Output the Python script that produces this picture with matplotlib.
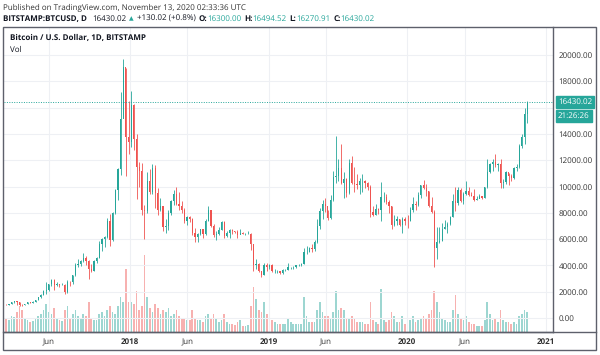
import numpy as np
import matplotlib
matplotlib.use('Agg')
import matplotlib.pyplot as plt
import matplotlib.dates as mdates
from matplotlib.patches import Rectangle
from matplotlib.lines import Line2D

plt.rcParams['font.family'] = ['Open Sans', 'DejaVu Sans']
plt.rcParams['text.hinting'] = 'no_hinting'
plt.rcParams['text.hinting_factor'] = 1

UP = '#26a69a'
DOWN = '#ef5350'
TXT = '#131722'
FRAME = '#5d606b'
FS_HEAD = 6.1
FS_AX = 5.8

# weekly candles (week starting monday), bitstamp BTC/USD
first_week = np.datetime64('2017-02-06')
first_open = 1010

close_2017 = [1000, 1050, 1180, 1270, 1230, 1020, 970, 1080, 1180, 1170, 1240, 1350,
              1560, 1760, 2050, 2100, 2550, 2920, 2520, 2580, 2500, 2510, 1950, 2750,
              2730, 3240, 4050, 4100, 4350, 4600, 4300, 3690, 3600, 4370, 4600, 5640,
              6000, 6140, 7380, 5900, 8000, 9750, 11300, 15100, 19100, 13800, 13400]
high_2017 = [1030, 1060, 1190, 1290, 1330, 1250, 1060, 1100, 1200, 1220, 1260, 1360,
             1600, 1850, 2100, 2760, 2560, 2980, 2950, 2770, 2600, 2640, 2550, 2900,
             2830, 3300, 4180, 4480, 4380, 4980, 4700, 4400, 4100, 4400, 4620, 5850,
             6100, 6200, 7600, 7880, 8050, 9800, 11400, 17170, 19670, 19000, 16500]
low_2017 = [960, 990, 1050, 1150, 1000, 950, 890, 960, 1060, 1140, 1170, 1240,
            1340, 1550, 1720, 1850, 2080, 2450, 2100, 2450, 2380, 2480, 1830, 1900,
            2440, 2620, 3200, 3850, 3920, 4260, 4000, 2970, 3480, 3580, 4160, 4550,
            5100, 5420, 6100, 5500, 5850, 7900, 9000, 10900, 15500, 10800, 12500]
vol_2017 = [14, 12, 16, 15, 20, 26, 22, 14, 12, 10, 11, 13, 16, 18, 22, 28, 20,
            18, 24, 14, 12, 11, 22, 26, 14, 18, 22, 16, 14, 18, 16, 30, 14, 12,
            12, 18, 20, 16, 22, 26, 20, 18, 26, 34, 30, 62, 30]

close_2018 = [16200, 13600, 11500, 11200, 8200, 8100, 10400, 9600, 11400, 9500, 8200,
              8500, 6900, 7000, 8000, 8900, 9400, 8700, 8500, 8200, 7350, 7700, 7500,
              6500, 6150, 6350, 6750, 6350, 7400, 8200, 7000, 6300, 6400, 6700, 7300,
              6200, 6500, 6700, 6600, 6550, 6300, 6500, 6400, 6400, 6400, 5600, 4000,
              4100, 3600, 3250, 4000, 3850, 4000]
high_2018 = [17250, 16300, 14000, 11900, 11800, 8600, 11100, 11300, 11700, 11600, 9900,
             9100, 8500, 7500, 8200, 8950, 9750, 9990, 9600, 8900, 8400, 7780, 7780,
             7600, 6850, 6500, 6800, 6800, 7550, 8500, 8250, 7150, 6620, 6950, 7380,
             7400, 6600, 6800, 6800, 6650, 6700, 6750, 6530, 6470, 6600, 6460, 5600,
             4500, 4200, 3600, 4200, 4200, 4120]
low_2018 = [13000, 12800, 9050, 10000, 7800, 6000, 8000, 9400, 9400, 8400, 7800,
            8100, 6600, 6500, 6700, 7800, 8600, 8600, 8200, 7950, 7250, 7100, 7300,
            6300, 5800, 5800, 6300, 6100, 6300, 7350, 6900, 6150, 5900, 6300, 6700,
            6100, 6150, 6100, 6400, 6450, 6100, 6400, 6350, 6300, 6350, 5200, 3600,
            3700, 3500, 3120, 3250, 3550, 3700]
vol_2018 = [30, 28, 40, 22, 26, 76, 34, 24, 20, 28, 24, 18, 22, 20, 24, 16, 18, 22,
            16, 14, 14, 12, 12, 22, 14, 12, 12, 10, 16, 18, 14, 18, 14, 10, 12, 18,
            10, 8, 8, 7, 10, 12, 6, 6, 7, 26, 44, 32, 22, 20, 30, 18, 14]

close_2019 = [3550, 3550, 3550, 3420, 3650, 3650, 3850, 3850, 3900, 4000, 4000, 4100,
              5050, 5050, 5300, 5250, 5750, 7000, 8100, 8700, 8550, 7600, 8950, 10700,
              10800, 11400, 10300, 10550, 9500, 11800, 10300, 10200, 10100, 10400, 10400,
              10300, 10000, 8050, 7800, 8300, 8200, 9200, 9200, 8800, 8500, 7050, 7400,
              7500, 7100, 7500, 7400, 7350]
high_2019 = [4100, 3700, 3650, 3560, 3700, 3700, 4200, 3900, 3950, 4050, 4100, 4150,
             5350, 5450, 5380, 5650, 5900, 7500, 8350, 8950, 9100, 8250, 9350, 11200,
             13850, 12100, 13200, 11100, 10650, 12100, 12300, 11450, 10950, 10650, 10950,
             10500, 10350, 10100, 8500, 8650, 8400, 10350, 9550, 9400, 9000, 8500, 7850,
             7750, 7550, 7650, 7650, 7800]
low_2019 = [3500, 3450, 3450, 3350, 3350, 3550, 3650, 3700, 3700, 3820, 3920, 3950,
            4080, 4900, 5000, 5050, 5100, 5700, 6800, 7550, 8050, 7450, 7550, 8900,
            10300, 10400, 10200, 9100, 9200, 9450, 10200, 9550, 9800, 9400, 9600,
            9900, 9750, 7700, 7750, 7800, 7900, 7350, 8850, 8700, 8000, 6800, 7000,
            7100, 7000, 6450, 7100, 6880]
vol_2019 = [12, 10, 8, 8, 8, 8, 14, 10, 8, 8, 8, 8, 34, 16, 10, 10, 10, 22, 30, 20,
            16, 16, 14, 20, 40, 22, 24, 22, 14, 14, 16, 14, 10, 10, 10, 8, 8, 30, 12,
            10, 8, 42, 12, 10, 12, 20, 16, 10, 10, 16, 8, 8]

close_2020 = [8180, 8700, 8600, 9350, 10150, 9900, 9650, 8550, 8050, 5350, 5800, 5880,
              6770, 6900, 7150, 7700, 8900, 8750, 9700, 8900, 9450, 9670, 9350, 9300,
              9000, 9080, 9250, 9160, 9950, 11100, 11680, 11900, 11670, 11690, 10270,
              10330, 11080, 10770, 10670, 11380, 11500, 13100, 13800, 15480, 16430.02]
high_2020 = [8450, 9190, 8900, 9600, 10150, 10500, 10200, 9650, 9180, 8200, 6900, 6950,
             7200, 7460, 7300, 7750, 9460, 10000, 9950, 9900, 9600, 10420, 9990, 9600,
             9800, 9300, 9450, 9300, 9950, 12100, 11800, 12100, 12470, 11750, 12080,
             10550, 11150, 11000, 10950, 11480, 11700, 13250, 14000, 15970, 16494.52]
low_2020 = [7350, 8050, 8250, 8500, 9150, 9800, 9300, 8450, 8000, 3850, 4450, 5700,
            5850, 6750, 6500, 7050, 7650, 8150, 8600, 8800, 8650, 9350, 9250, 9250,
            8900, 8950, 9100, 9050, 9150, 9900, 11000, 11200, 11500, 11200, 9900,
            9850, 10200, 10150, 10450, 10550, 11200, 11400, 12900, 13200, 14800]
vol_2020 = [12, 16, 10, 12, 14, 16, 14, 18, 22, 40, 30, 20, 14, 12, 10, 10, 22, 36,
            18, 14, 12, 16, 10, 8, 8, 6, 6, 6, 12, 30, 18, 12, 14, 10, 22, 12, 10, 10,
            8, 10, 8, 16, 18, 22, 20]

price_ticks = [0, 2000, 4000, 6000, 8000, 10000, 12000, 14000, 16000, 18000, 20000]
# 16000 is hidden behind the last-price tag in the original
price_labels = ['0.00', '2000.00', '4000.00', '6000.00', '8000.00', '10000.00',
                '12000.00', '14000.00', '', '18000.00', '20000.00']
date_ticks = ['2017-06-01', '2018-01-01', '2018-06-01', '2019-01-01', '2019-06-01',
              '2020-01-01', '2020-06-01', '2021-01-01']
date_labels = ['Jun', '2018', 'Jun', '2019', 'Jun', '2020', 'Jun', '2021']
last_price = 16430.02

closes = np.array(close_2017 + close_2018 + close_2019 + close_2020, float)
highs = np.array(high_2017 + high_2018 + high_2019 + high_2020, float)
lows = np.array(low_2017 + low_2018 + low_2019 + low_2020, float)
volume = np.array(vol_2017 + vol_2018 + vol_2019 + vol_2020, float)
opens = np.concatenate([[first_open], closes[:-1]])
weeks = first_week + np.arange(len(closes)) * np.timedelta64(7, 'D')
x = mdates.date2num(weeks + np.timedelta64(3, 'D'))
cols = np.where(closes >= opens, UP, DOWN)

W, H = 600, 355
fig = plt.figure(figsize=(6, 3.55), dpi=100)


def fx(px):
    return px / W


def fy(py):
    return 1 - py / H


pos = [fx(4), fy(332), fx(553 - 4), (332 - 27) / H]
ax_vol = fig.add_axes(pos)
ax = fig.add_axes(pos, sharex=ax_vol)
ax.patch.set_visible(False)

ax_vol.bar(x, volume, width=4.5, color=cols, alpha=0.45, linewidth=0)
ax_vol.set_ylim(0, 300)
ax_vol.axis('off')

ax.vlines(x, lows, highs, colors=cols, linewidth=0.6)
ax.bar(x, closes - opens, bottom=opens, width=3.2, color=cols, linewidth=0)
ax.axhline(last_price, color=UP, linestyle=(0, (1, 1.5)), linewidth=0.7)

ax.set_xlim(mdates.date2num(np.datetime64('2017-02-03')),
            mdates.date2num(np.datetime64('2021-01-19')))
ax.set_ylim(-1065, 22130)

ax.yaxis.tick_right()
ax.set_yticks(price_ticks)
ax.set_yticklabels(price_labels)
ax.set_xticks(mdates.date2num(np.array(date_ticks, dtype='datetime64[D]')))
ax.set_xticklabels(date_labels)
for lab in ax.get_xticklabels():
    if lab.get_text() != 'Jun':
        lab.set_fontweight('bold')
ax.tick_params(axis='both', length=0, labelsize=FS_AX, colors='#333333')
ax.tick_params(axis='y', pad=4)
ax.tick_params(axis='x', pad=4.5)
ax.grid(True, color='#eef0f4', linewidth=0.8)
ax.set_axisbelow(True)
for s in ['top', 'left']:
    ax.spines[s].set_visible(False)
for s in ['right', 'bottom']:
    ax.spines[s].set_color(FRAME)
    ax.spines[s].set_linewidth(1)

# outer frame and axis separator
fig.add_artist(Rectangle((fx(3), fy(350)), fx(593), 323 / H, transform=fig.transFigure,
                         fill=False, edgecolor=FRAME, linewidth=1))
fig.add_artist(Line2D([fx(3), fx(596)], [fy(332), fy(332)], transform=fig.transFigure,
                      color=FRAME, linewidth=1))

# last price tags
ax.annotate('16430.02', xy=(1, last_price), xycoords=('axes fraction', 'data'),
            xytext=(3.5, 0), textcoords='offset points', ha='left', va='center',
            fontsize=FS_AX, color='white', annotation_clip=False,
            bbox=dict(boxstyle='square,pad=0.25', fc=UP, ec=UP))
ax.annotate('21:26:26', xy=(1, last_price), xycoords=('axes fraction', 'data'),
            xytext=(3.5, -10), textcoords='offset points', ha='left', va='center',
            fontsize=FS_AX, color='white', annotation_clip=False,
            bbox=dict(boxstyle='square,pad=0.25', fc=UP, ec=UP))

# header
fig.text(fx(3), fy(7.5), 'Published on TradingView.com, November 13, 2020 02:33:36 UTC',
         fontsize=FS_HEAD, color='#333333', va='center', ha='left')

parts = [('BITSTAMP:BTCUSD, D', TXT, 'bold', 0), ('16430.02', TXT, 'normal', 4),
         ('\u25b2', UP, 'normal', 2), ('+130.02 (+0.8%)', TXT, 'normal', 2),
         ('O:', TXT, 'bold', 2), ('16300.00', UP, 'normal', 0),
         ('H:', TXT, 'bold', 2), ('16494.52', UP, 'normal', 0),
         ('L:', TXT, 'bold', 2), ('16270.91', UP, 'normal', 0),
         ('C:', TXT, 'bold', 2), ('16430.02', UP, 'normal', 0)]
prev = fig.text(fx(3), fy(18.5), parts[0][0], fontsize=FS_HEAD, color=parts[0][1],
                fontweight=parts[0][2], va='center', ha='left')
for s, c, w, gap in parts[1:]:
    prev = ax.annotate(s, xy=(1, 0.5), xycoords=prev, xytext=(gap, 0),
                       textcoords='offset points',
                       fontsize=FS_HEAD if s != '\u25b2' else 4.5,
                       color=c, fontweight=w, va='center', ha='left',
                       annotation_clip=False)

fig.text(fx(10), fy(38), 'Bitcoin / U.S. Dollar, 1D, BITSTAMP', fontsize=FS_AX,
         fontweight='bold', color=TXT, va='center', ha='left')
fig.text(fx(10), fy(50), 'Vol', fontsize=FS_AX, color=TXT, va='center', ha='left')

fig.savefig('out.png', dpi=100)
